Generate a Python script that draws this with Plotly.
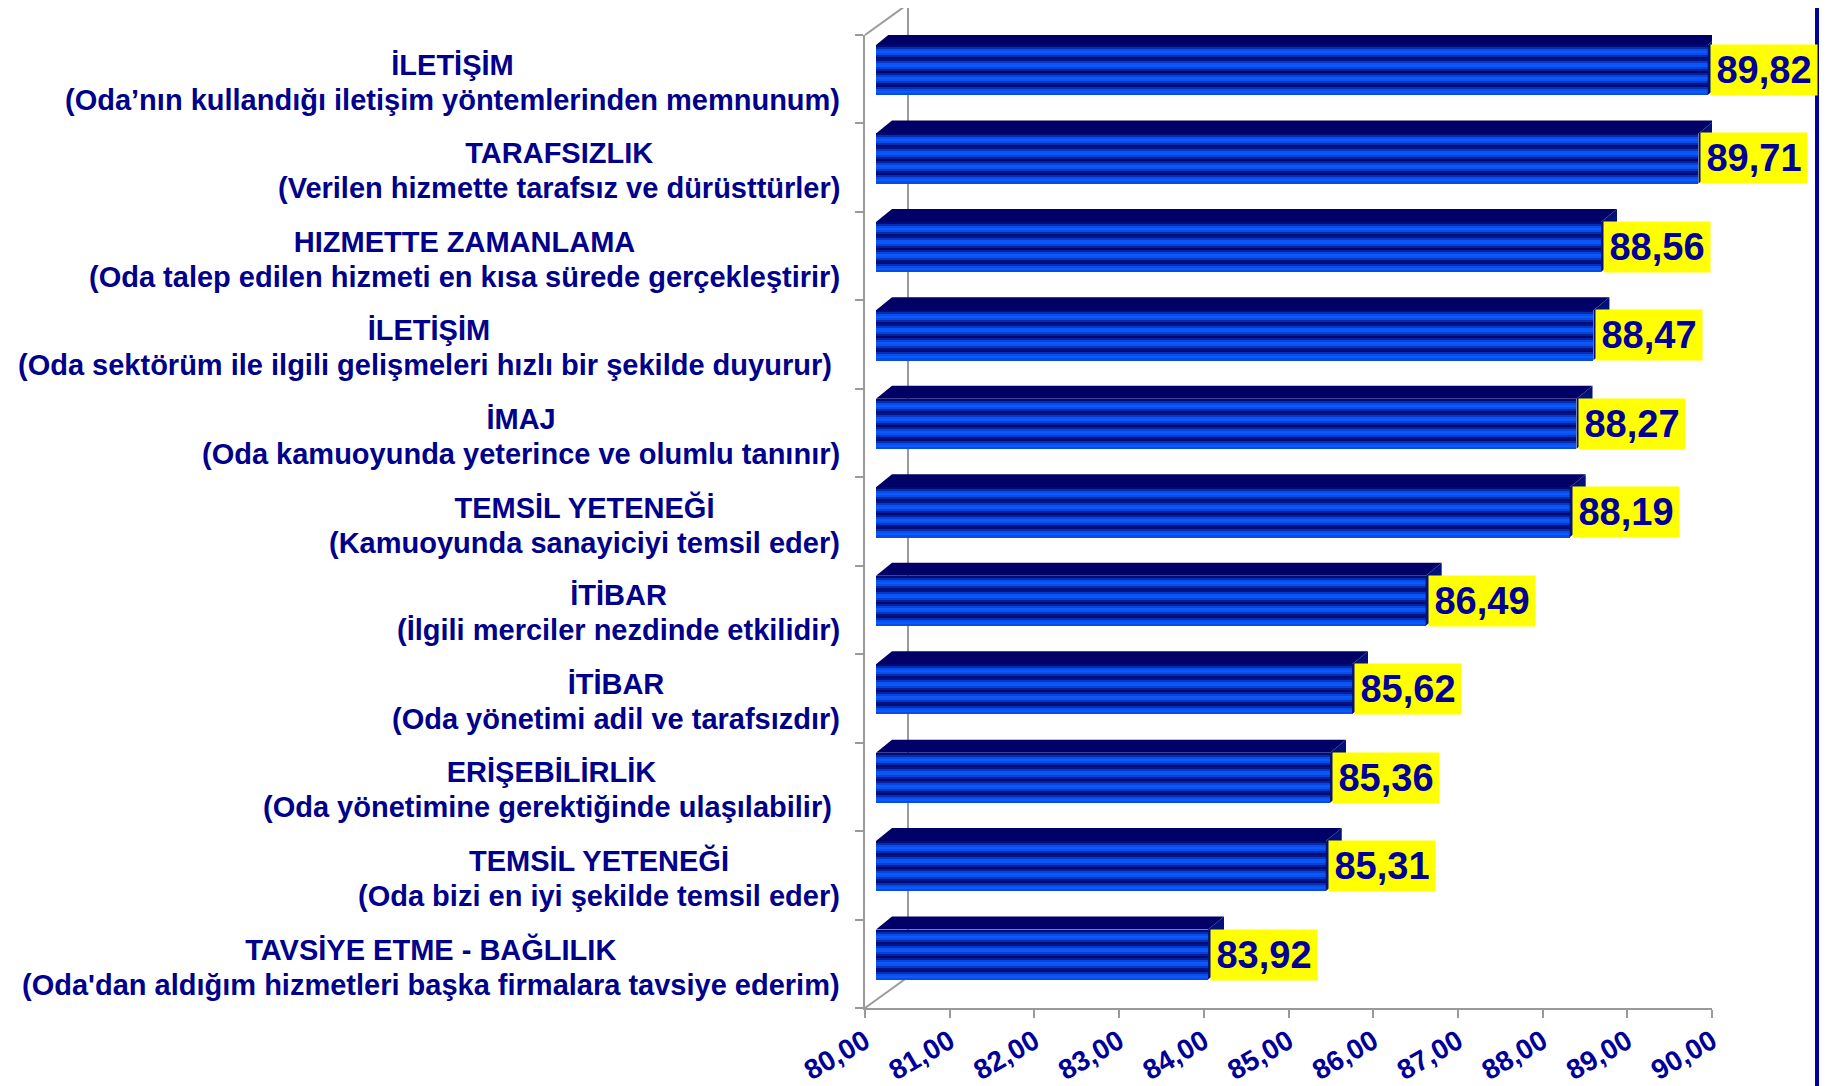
import math
import plotly.graph_objects as go

# ---------------- data ----------------
titles = [
    "İLETİŞİM",
    "TARAFSIZLIK",
    "HIZMETTE ZAMANLAMA",
    "İLETİŞİM",
    "İMAJ",
    "TEMSİL YETENEĞİ",
    "İTİBAR",
    "İTİBAR",
    "ERİŞEBİLİRLİK",
    "TEMSİL YETENEĞİ",
    "TAVSİYE ETME - BAĞLILIK",
]
details = [
    "(Oda’nın kullandığı iletişim yöntemlerinden memnunum)",
    "(Verilen hizmette tarafsız ve dürüsttürler)",
    "(Oda talep edilen hizmeti en kısa sürede gerçekleştirir)",
    "(Oda sektörüm ile ilgili gelişmeleri hızlı bir şekilde duyurur)\u00a0",
    "(Oda kamuoyunda yeterince ve olumlu tanınır)",
    "(Kamuoyunda sanayiciyi temsil eder)",
    "(İlgili merciler nezdinde etkilidir)",
    "(Oda yönetimi adil ve tarafsızdır)",
    "(Oda yönetimine gerektiğinde ulaşılabilir)\u00a0",
    "(Oda bizi en iyi şekilde temsil eder)",
    "(Oda'dan aldığım hizmetleri başka firmalara tavsiye ederim)",
]
values = [89.82, 89.71, 88.56, 88.47, 88.27, 88.19, 86.49, 85.62, 85.36, 85.31, 83.92]
x_tick_values = [80, 81, 82, 83, 84, 85, 86, 87, 88, 89, 90]
x_tick_labels = ["80,00", "81,00", "82,00", "83,00", "84,00", "85,00",
                 "86,00", "87,00", "88,00", "89,00", "90,00"]
value_labels = ["89,82", "89,71", "88,56", "88,47", "88,27", "88,19",
                "86,49", "85,62", "85,36", "85,31", "83,92"]

# ---------------- layout geometry (page pixels) ----------------
OFF = 8                                   # default body margin of the page
W, H = 1827, 1086
PL, PR, PT, PB = 865, 1712, 35, 1008
XMIN, XMAX = 80, 90
n = len(values)
px_x = (PR - PL) / (XMAX - XMIN)
px_y = (PB - PT) / n
ypos = list(range(n))

def paper_x(px):
    return (px - PL) / (PR - PL)

def paper_y(py):
    return (PB - py) / (PB - PT)

BAR_SHIFT = 11 / px_x
FACE_TOP = (45 - PT) / px_y - 0.5
FACE_H = 50 / px_y
DX = 16 / px_x
DY = 13 / px_y

NAVY_TXT = "#00008B"
FONT = "Arial, Liberation Sans, sans-serif"
GRAY = "#9a9a9a"

fig = go.Figure()

# invisible trace so that the main x/y axes are drawn
fig.add_trace(go.Scatter(x=[XMIN], y=[0], mode="markers", marker=dict(opacity=0),
                         hoverinfo="skip", showlegend=False))

# base dark bar
fig.add_trace(go.Bar(
    y=ypos, x=[v - XMIN for v in values], base=XMIN, orientation="h",
    width=FACE_H, offset=FACE_TOP, xaxis="x2",
    marker=dict(color="#000a70", line=dict(width=0)),
    hoverinfo="skip", showlegend=False,
))

# striped gradient
NS = 25
dark = (0, 6, 110)
bright = (10, 90, 255)
for k in range(NS):
    yc = (k + 0.5) * 50 / NS
    t = (1 - math.cos(2 * math.pi * (yc - 0.35) / 13.3)) / 2
    t = t ** 0.75
    col = "rgb(%d,%d,%d)" % tuple(round(d + (b - d) * t) for d, b in zip(dark, bright))
    fig.add_trace(go.Bar(
        y=ypos, x=[v - XMIN for v in values], base=XMIN, orientation="h",
        width=FACE_H / NS * 1.15, offset=FACE_TOP + k * FACE_H / NS, xaxis="x2",
        marker=dict(color=col, line=dict(width=0)),
        hoverinfo="skip", showlegend=False,
    ))

shapes = []
for i, v in zip(ypos, values):
    top = i + FACE_TOP
    bot = top + FACE_H
    x0 = XMIN
    shapes.append(dict(
        type="path", xref="x2", yref="y", layer="above",
        path=f"M {x0},{top} L {v},{top} L {v + DX},{top - DY} L {x0 + DX},{top - DY} Z",
        fillcolor="#000066", line=dict(width=0),
    ))
    shapes.append(dict(
        type="path", xref="x2", yref="y", layer="above",
        path=f"M {v},{top} L {v + DX},{top - DY} L {v + DX},{bot - DY} L {v},{bot} Z",
        fillcolor="#00127a", line=dict(width=0),
    ))

BX = PL + 43
BT = PT - 31
BB = PB - 31
shapes += [
    dict(type="line", xref="paper", yref="paper", layer="below",
         x0=paper_x(BX), x1=paper_x(BX), y0=paper_y(BT), y1=paper_y(BB),
         line=dict(color=GRAY, width=2)),
    dict(type="line", xref="paper", yref="paper", layer="below",
         x0=paper_x(PL), x1=paper_x(BX), y0=paper_y(PT), y1=paper_y(BT),
         line=dict(color=GRAY, width=2)),
    dict(type="line", xref="paper", yref="paper", layer="below",
         x0=paper_x(PL), x1=paper_x(BX), y0=paper_y(PB), y1=paper_y(BB),
         line=dict(color=GRAY, width=2)),
    dict(type="rect", xref="paper", yref="paper", layer="above",
         x0=paper_x(1815), x1=paper_x(1822), y0=paper_y(H + 5), y1=paper_y(-5),
         fillcolor="#0000a0", line=dict(width=0)),
    dict(type="rect", xref="paper", yref="paper", layer="above",
         x0=paper_x(1822), x1=paper_x(1825), y0=paper_y(H + 5), y1=paper_y(-5),
         fillcolor="#c8c8ee", line=dict(width=0)),
]

annotations = []
for i, t1, t2 in zip(ypos, titles, details):
    annotations.append(dict(
        xref="paper", yref="y", x=paper_x(841), y=i, xanchor="right", yanchor="middle",
        yshift=-3,
        text=f"<span style='font-size:29px'>{t1}</span><br><span style='font-size:29px'>{t2}</span>",
        align="center", showarrow=False,
        font=dict(family=FONT, size=27, color=NAVY_TXT, weight="bold"),
        borderpad=0,
    ))
for i, v, lab in zip(ypos, values, value_labels):
    annotations.append(dict(
        xref="x2", yref="y", x=v, y=i + FACE_TOP + FACE_H / 2,
        xanchor="left", yanchor="middle", xshift=2,
        text=lab, showarrow=False, bgcolor="#ffff00",
        width=106, height=50, align="center", valign="middle",
        font=dict(family=FONT, size=38, color="#000099", weight="bold"),
        borderpad=0,
    ))

fig.update_layout(
    width=W - OFF, height=H - OFF,
    margin=dict(l=PL - OFF, r=W - PR, t=PT - OFF, b=H - PB, autoexpand=False),
    paper_bgcolor="white", plot_bgcolor="rgba(0,0,0,0)",
    barmode="overlay", bargap=0,
    separators=",.",
    showlegend=False,
    shapes=shapes, annotations=annotations,
    xaxis=dict(
        range=[XMIN, XMAX], tickvals=x_tick_values, ticktext=x_tick_labels,
        showgrid=False, zeroline=False, showline=True, linecolor=GRAY, linewidth=2,
        ticks="outside", ticklen=8, tickwidth=2, tickcolor=GRAY,
        tickangle=-30, ticklabelstandoff=-4,
        tickfont=dict(family=FONT, size=28, color="#000099", weight="bold"),
        fixedrange=True,
    ),
    xaxis2=dict(
        range=[XMIN - BAR_SHIFT, XMAX - BAR_SHIFT], overlaying="x", visible=False,
        fixedrange=True,
    ),
    yaxis=dict(
        range=[n - 0.5, -0.5], tickvals=[k - 0.5 for k in range(n + 1)],
        showticklabels=False, showgrid=False, zeroline=False,
        showline=True, linecolor=GRAY, linewidth=2,
        ticks="outside", ticklen=8, tickwidth=2, tickcolor=GRAY,
        fixedrange=True,
    ),
)

fig.write_html("out.html")
